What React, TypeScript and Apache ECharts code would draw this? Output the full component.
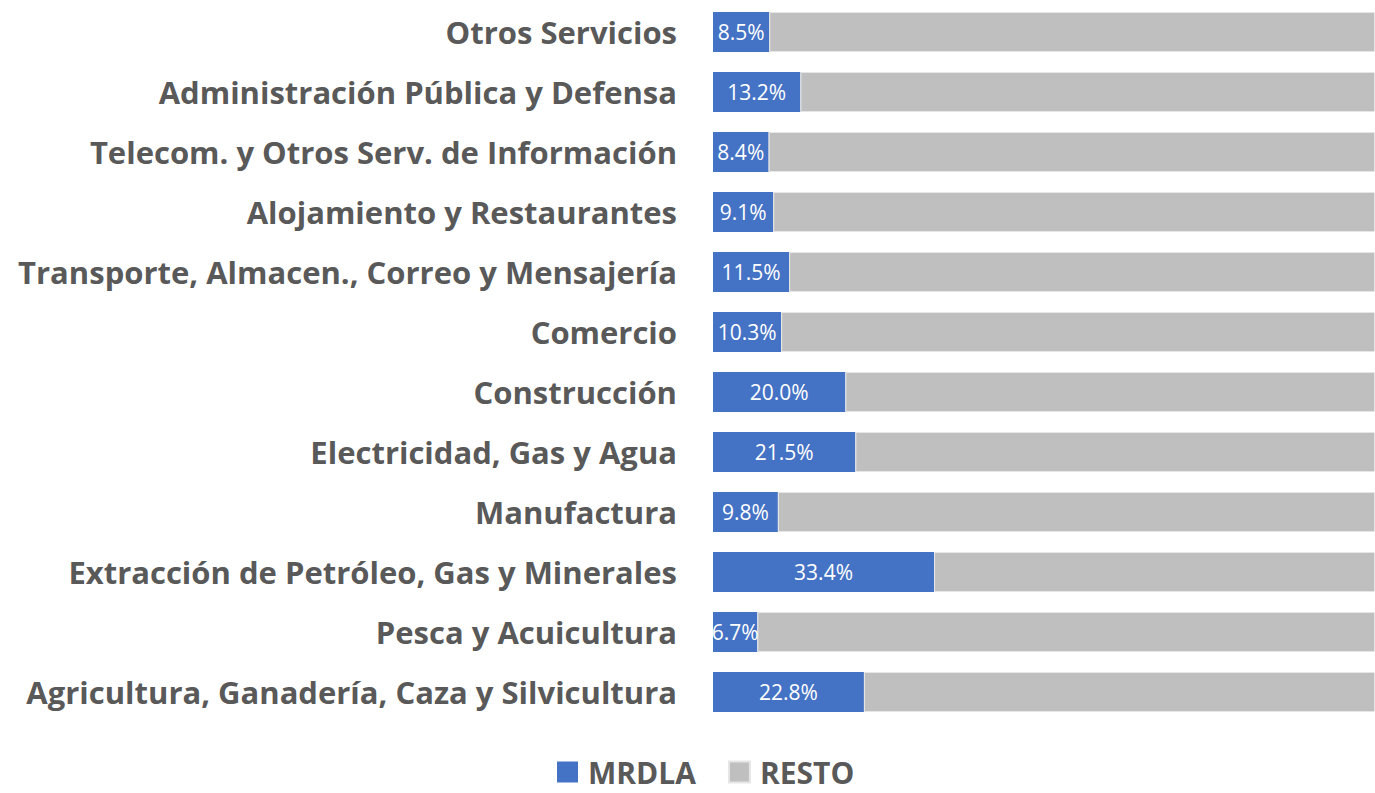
import React, { useEffect, useRef } from "react";
import * as echarts from "echarts";

const categories = [
  "Agricultura, Ganadería, Caza y Silvicultura",
  "Pesca y Acuicultura",
  "Extracción de Petróleo, Gas y Minerales",
  "Manufactura",
  "Electricidad, Gas y Agua",
  "Construcción",
  "Comercio",
  "Transporte, Almacen., Correo y Mensajería",
  "Alojamiento y Restaurantes",
  "Telecom. y Otros Serv. de Información",
  "Administración Pública y Defensa",
  "Otros Servicios",
];
const mrdla = [22.8, 6.7, 33.4, 9.8, 21.5, 20.0, 10.3, 11.5, 9.1, 8.4, 13.2, 8.5];
const resto = [77.2, 93.3, 66.6, 90.2, 78.5, 80.0, 89.7, 88.5, 90.9, 91.6, 86.8, 91.5];

export default function App() {
  const ref = useRef<HTMLDivElement>(null);
  useEffect(() => {
    const chart = echarts.init(ref.current!, null, { renderer: "svg" });
    chart.setOption({
      animation: false,
      backgroundColor: "#ffffff",
      textStyle: { fontFamily: "Open Sans" },
      legend: {
        top: 757,
        left: 557,
        itemWidth: 21,
        itemHeight: 21,
        itemGap: 32,
        padding: 0,
        icon: "rect",
        textStyle: {
          fontSize: 30,
          lineHeight: 30,
          fontWeight: "bold",
          color: "#595959",
          fontFamily: "Open Sans",
          padding: [0, 0, 0, 5],
        },
        data: ["MRDLA", "RESTO"],
      },
      grid: { left: 713, right: 0, top: 2, height: 720, containLabel: false },
      xAxis: {
        type: "value",
        min: 0,
        max: 100,
        show: false,
      },
      yAxis: {
        type: "category",
        data: categories,
        axisLine: { show: false },
        axisTick: { show: false },
        axisLabel: {
          margin: 36,
          fontSize: 31,
          fontWeight: "bold",
          color: "#595959",
          fontFamily: "Open Sans",
        },
      },
      series: [
        {
          name: "MRDLA",
          type: "bar",
          stack: "total",
          data: mrdla,
          barWidth: 40,
          itemStyle: { color: "#4472C4" },
          label: {
            show: true,
            position: "inside",
            formatter: (p: any) => p.value.toFixed(1) + "%",
            color: "#ffffff",
            fontSize: 21,
            fontFamily: "Open Sans",
          },
        },
        {
          name: "RESTO",
          type: "bar",
          stack: "total",
          data: resto,
          barWidth: 40,
          itemStyle: { color: "#BFBFBF", borderColor: "#e6e6e6", borderWidth: 1 },
        },
      ],
    });
    return () => chart.dispose();
  }, []);
  return (
    <div
      ref={ref}
      style={{ position: "fixed", left: 0, top: 0, width: 1375, height: 793 }}
    />
  );
}
